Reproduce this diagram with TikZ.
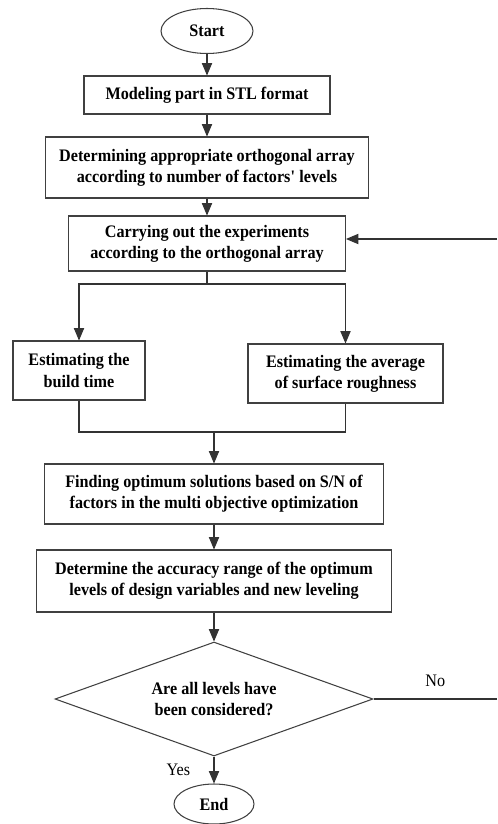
\documentclass[tikz,border=0pt]{standalone}
\usepackage{fontspec}
\setmainfont{Liberation Serif}[FakeStretch=0.92]
\usetikzlibrary{arrows,shapes.geometric}

\begin{document}
\begin{tikzpicture}[x=0.02cm, y=-0.02cm,
                    block/.style={draw=black!75, line width=0.6pt, align=center, inner sep=0pt,
                                  font=\bfseries\fontsize{10}{12}\selectfont},
                    term/.style={block, ellipse},
                    flow/.style={draw=black!80, line width=0.6pt, ->, >=triangle 45}]
    \useasboundingbox (0,0) rectangle (497,824);
    \node[term, minimum width=1.84cm, minimum height=0.9cm] (start) at (207,31) {Start};
    \node[block, minimum width=4.92cm, minimum height=0.76cm] (model) at (207,95) {Modeling part in STL format};
    \node[block, minimum width=6.46cm, minimum height=1.22cm] (array) at (207,167.5)
        {Determining appropriate orthogonal array\\according to number of factors\textquotesingle\ levels};
    \node[block, minimum width=5.54cm, minimum height=1.1cm] (exper) at (207,243.5)
        {Carrying out the experiments\\according to the orthogonal array};
    \node[block, minimum width=2.64cm, minimum height=1.18cm] (time) at (79,370.5)
        {Estimating the\\build time};
    \node[block, minimum width=3.9cm, minimum height=1.18cm] (rough) at (345.5,373.5)
        {Estimating the average\\of surface roughness};
    \node[block, minimum width=6.78cm, minimum height=1.2cm] (optim) at (214,494)
        {Finding optimum solutions based on S/N of\\factors in the multi objective optimization};
    \node[block, minimum width=7.12cm, minimum height=1.24cm] (level) at (214,581)
        {Determine the accuracy range of the optimum\\levels of design variables and new leveling};
    \node[block, diamond, aspect=2.79, minimum width=6.36cm, minimum height=2.28cm] (check) at (214,699)
        {Are all levels have\\been considered?};
    \node[term, minimum width=1.6cm, minimum height=0.8cm] (finish) at (214,804) {End};

    \coordinate (split) at (207,284);
    \coordinate (merge) at (214,432);
    \coordinate (noend) at (497,699);
    \coordinate (back) at (497,239);

    \draw[flow] (start) -- (model);
    \draw[flow] (model) -- (array);
    \draw[flow] (array) -- (exper);
    \draw[flow, -] (exper) -- (split);
    \draw[flow] (split) -| (time);
    \draw[flow] (split) -| (rough);
    \draw[flow, -] (time) |- (merge);
    \draw[flow, -] (rough) |- (merge);
    \draw[flow] (merge) -- (optim);
    \draw[flow] (optim) -- (level);
    \draw[flow] (level) -- (check);
    \draw[flow] (check) -- node[left, xshift=-0.35cm, font=\fontsize{10}{12}\selectfont] {Yes} (finish);
    \draw[flow, -] (check.east) -- node[above, yshift=0.12cm, font=\fontsize{10}{12}\selectfont] {No} (noend);
    \draw[flow] (back) -- (exper.east |- back);
\end{tikzpicture}
\end{document}
